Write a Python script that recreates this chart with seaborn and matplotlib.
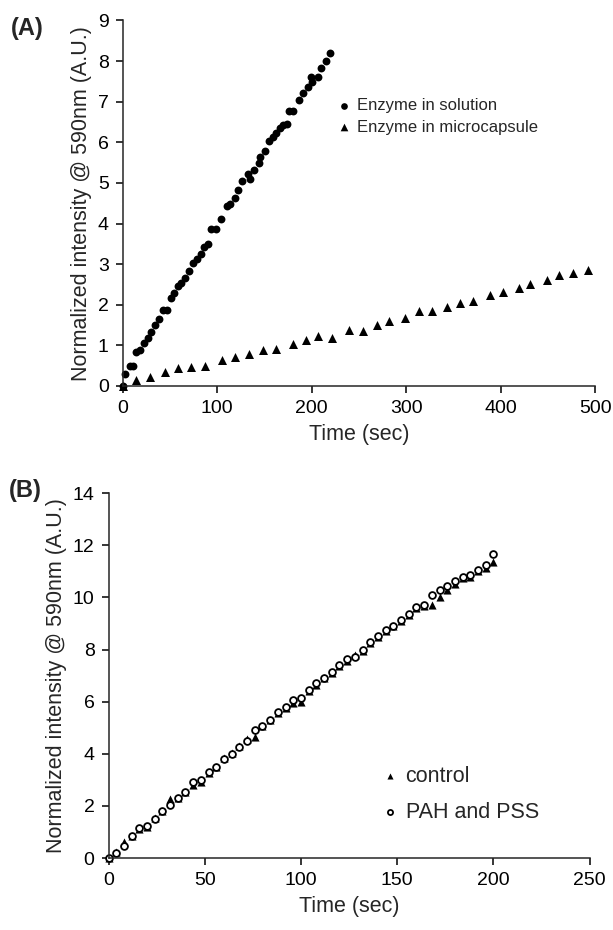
import numpy as np
import pandas as pd
import matplotlib
matplotlib.use("Agg")
import matplotlib.pyplot as plt
import seaborn as sb

# (A) enzyme activity, solution vs microcapsule
sol_t = [0, 2.5, 7.7, 10.5, 14, 18, 23, 26.4, 30, 34, 38.7, 43, 47, 50.7, 54.6, 58.8,
         62.3, 65.9, 70.4, 74.6, 78.9, 82.8, 86.3, 90.5, 94, 99, 104.6, 110, 114, 118.7,
         122.2, 125.8, 132.8, 134.6, 138.8, 144.4, 145.5, 150.4, 155, 159.2, 162.8, 166.3,
         170, 173.4, 176, 180, 186.7, 191, 196, 199, 200.8, 206.8, 210.4, 215, 219.1]
sol_v = [0, 0.30, 0.50, 0.48, 0.84, 0.88, 1.05, 1.17, 1.32, 1.50, 1.64, 1.86, 1.86, 2.16,
         2.28, 2.45, 2.53, 2.65, 2.82, 3.02, 3.12, 3.24, 3.42, 3.49, 3.86, 3.86, 4.10, 4.43,
         4.47, 4.63, 4.83, 5.05, 5.22, 5.10, 5.32, 5.49, 5.64, 5.79, 6.02, 6.12, 6.22, 6.35,
         6.42, 6.45, 6.76, 6.77, 7.03, 7.21, 7.36, 7.60, 7.48, 7.62, 7.82, 8.00, 8.21]

cap_t = [0, 14, 29, 45, 58.5, 72, 87, 105, 119, 134, 149, 162, 180, 194.5, 207, 222, 239.5,
         254, 269.5, 282, 299, 313.5, 327, 343, 357, 371, 389, 402, 419, 431.5, 449.5, 462,
         477, 492]
cap_v = [0, 0.15, 0.23, 0.34, 0.44, 0.46, 0.48, 0.64, 0.71, 0.79, 0.88, 0.92, 1.03, 1.12,
         1.24, 1.19, 1.37, 1.36, 1.51, 1.59, 1.67, 1.84, 1.84, 1.95, 2.04, 2.09, 2.23, 2.32,
         2.40, 2.52, 2.62, 2.72, 2.79, 2.86]

# (B) control vs PAH/PSS coated
b_t = [0, 4, 8, 12, 16, 20, 24, 28, 32, 36, 40, 44, 48, 52, 56, 60, 64, 68, 72, 76, 80,
       84, 88, 92, 96, 100, 104, 108, 112, 116, 120, 124, 128, 132, 136, 140, 144, 148,
       152, 156, 160, 164, 168, 172, 176, 180, 184, 188, 192, 196, 200]
pah_v = [0, 0.2, 0.45, 0.84, 1.14, 1.23, 1.5, 1.8, 2.05, 2.3, 2.55, 2.9, 3.0, 3.3, 3.5,
         3.8, 4.0, 4.28, 4.5, 4.92, 5.05, 5.3, 5.6, 5.8, 6.08, 6.15, 6.45, 6.7, 6.92, 7.15,
         7.4, 7.62, 7.7, 7.98, 8.3, 8.52, 8.75, 8.92, 9.12, 9.38, 9.65, 9.7, 10.1, 10.28,
         10.45, 10.65, 10.8, 10.85, 11.05, 11.25, 11.65]
ctrl_v = [0, 0.22, 0.6, 0.86, 1.12, 1.2, 1.52, 1.82, 2.25, 2.32, 2.55, 2.8, 2.9, 3.28,
          3.5, 3.82, 4.02, 4.3, 4.55, 4.65, 5.05, 5.3, 5.55, 5.75, 5.95, 6.0, 6.42, 6.65,
          6.9, 7.12, 7.38, 7.58, 7.8, 7.95, 8.25, 8.48, 8.7, 8.9, 9.1, 9.32, 9.6, 9.67,
          9.7, 10.03, 10.3, 10.5, 10.75, 10.8, 11.0, 11.15, 11.35]

df_a1 = pd.DataFrame({"t": sol_t, "v": sol_v})
df_a2 = pd.DataFrame({"t": cap_t, "v": cap_v})
df_b = pd.DataFrame({"t": b_t, "ctrl": ctrl_v, "pah": pah_v})

sb.set_style("ticks")
plt.rcParams["font.family"] = ["Liberation Sans", "DejaVu Sans"]
plt.rcParams["axes.linewidth"] = 1.1

ylab = "Normalized intensity @ 590nm (A.U.)"

fig = plt.figure(figsize=(6.13, 9.3), dpi=100)
ax1 = fig.add_axes([0.200, 0.585, 0.771, 0.393])
ax2 = fig.add_axes([0.177, 0.0774, 0.785, 0.3922])

sb.scatterplot(data=df_a1, x="t", y="v", ax=ax1, marker="o", s=32, color="black",
               edgecolor="black", linewidth=0, label="Enzyme in solution", clip_on=False)
sb.scatterplot(data=df_a2, x="t", y="v", ax=ax1, marker="^", s=42, color="black",
               edgecolor="black", linewidth=0, label="Enzyme in microcapsule", clip_on=False)
ax1.set_xlim(0, 500)
ax1.set_ylim(0, 9)
ax1.set_xticks(range(0, 501, 100))
ax1.set_yticks(range(0, 10))

sb.scatterplot(data=df_b, x="t", y="ctrl", ax=ax2, marker="^", s=34, color="black",
               edgecolor="black", linewidth=0, label="control", clip_on=False)
sb.scatterplot(data=df_b, x="t", y="pah", ax=ax2, marker="o", s=24, facecolor="white",
               edgecolor="black", linewidth=1.3, label="PAH and PSS", clip_on=False)
ax2.set_xlim(0, 250)
ax2.set_ylim(0, 14)
ax2.set_xticks(range(0, 251, 50))
ax2.set_yticks(range(0, 15, 2))

for ax in (ax1, ax2):
    sb.despine(ax=ax)
    ax.tick_params(direction="out", length=5, width=1.1, labelsize=14, colors="black", pad=5)
    ax.set_xlabel("Time (sec)", fontsize=15.5, labelpad=5)
    ax.set_ylabel(ylab, fontsize=15.5, labelpad=4)

ax1.legend(loc="center left", bbox_to_anchor=(0.455, 0.738), frameon=False, fontsize=12,
           handlelength=0.8, handletextpad=0.35, borderpad=0, borderaxespad=0,
           labelspacing=0.4, markerscale=0.85)
ax2.legend(loc="center left", bbox_to_anchor=(0.568, 0.174), frameon=False, fontsize=15.5,
           handlelength=0.8, handletextpad=0.3, borderpad=0, borderaxespad=0,
           labelspacing=0.7, markerscale=0.75)

fig.text(0.018, 0.969, "(A)", fontsize=17, fontweight="bold", va="center")
fig.text(0.015, 0.473, "(B)", fontsize=17, fontweight="bold", va="center")

fig.savefig("out.png", dpi=100)
